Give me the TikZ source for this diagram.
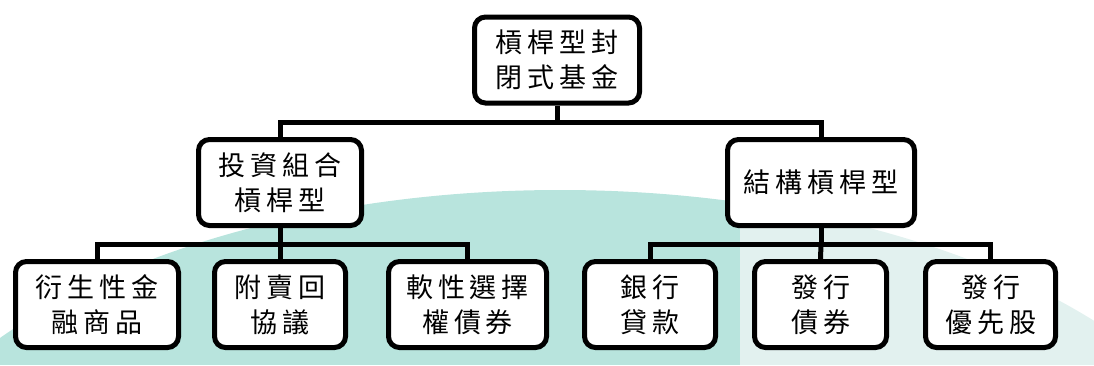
\documentclass[tikz,border=0pt]{standalone}
\usepackage{fontspec}
\newfontfamily\cjk{Noto Sans CJK TC}
\newcommand{\gp}{\hspace{5pt}}
\definecolor{wmteal}{RGB}{184,228,221}
\definecolor{wmlight}{RGB}{226,241,239}
\begin{document}
\begin{tikzpicture}[x=1pt,y=-1pt,
  box/.style={draw=black, line width=5pt, rounded corners=11pt, fill=white,
    align=center, inner sep=0pt, minimum height=86pt,
    font=\cjk\fontsize{27}{35}\selectfont},
  link/.style={draw=black, line width=5pt, line join=miter}]
\useasboundingbox (0,0) rectangle (1094,365);
% faint background watermark
\begin{scope}
\clip (0,0) rectangle (1094,365);
\clip (560,560) ellipse [x radius=700pt, y radius=370pt];
\fill[wmteal] (0,0) rectangle (740,365);
\fill[wmlight] (740,0) rectangle (1094,365);
\end{scope}
% nodes
\node[box, minimum width=165pt] (top) at (557,60) {槓\gp{}桿\gp{}型\gp{}封\\閉\gp{}式\gp{}基\gp{}金};
\node[box, minimum width=163pt] (A) at (280,182.5) {投\gp{}資\gp{}組\gp{}合\\槓\gp{}桿\gp{}型};
\node[box, minimum width=187pt] (B) at (821,182.5) {結\gp{}構\gp{}槓\gp{}桿\gp{}型};
\node[box, minimum width=163pt] (a1) at (97,304.5) {衍\gp{}生\gp{}性\gp{}金\\融\gp{}商\gp{}品};
\node[box, minimum width=131pt] (a2) at (280,304.5) {附\gp{}賣\gp{}回\\協\gp{}議};
\node[box, minimum width=158pt] (a3) at (467.5,304.5) {軟\gp{}性\gp{}選\gp{}擇\\權\gp{}債\gp{}券};
\node[box, minimum width=131pt] (b1) at (650,304.5) {銀\gp{}行\\貸\gp{}款};
\node[box, minimum width=132pt] (b2) at (820.5,304.5) {發\gp{}行\\債\gp{}券};
\node[box, minimum width=130pt] (b3) at (990.5,304.5) {發\gp{}行\\優\gp{}先\gp{}股};
% bus points
\coordinate (bus0) at (557,122);
\coordinate (busA) at (280,244);
\coordinate (busB) at (821,244);
% connectors
\draw[link] (top.south) -- (bus0);
\draw[link] (A.north) |- (bus0) -| (B.north);
\draw[link] (A.south) -- (busA);
\draw[link] (a1.north) |- (busA) -| (a3.north);
\draw[link] (busA) -- (a2.north);
\draw[link] (B.south) -- (busB);
\draw[link] (b1.north) |- (busB) -| (b3.north);
\draw[link] (busB) -- (b2.north);
\end{tikzpicture}
\end{document}
